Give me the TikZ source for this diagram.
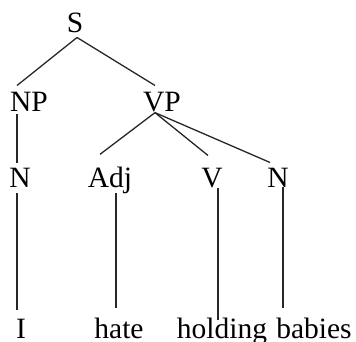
\documentclass[tikz,border=0pt]{standalone}
\usepackage{fontspec}
\setmainfont{Liberation Serif}
\begin{document}
\begin{tikzpicture}[x=1pt, y=-1pt,
    cat/.style={inner sep=0pt, anchor=base, font=\fontsize{29.5}{32}\selectfont},
    branch/.style={line width=1.3pt, black!85}]
    \useasboundingbox (0,0) rectangle (356,342);

    % Root
    \node[cat] (S) at (75,33) {S};

    % Phrases
    \node[cat] (NP) at (29,112) {NP};
    \node[cat] (VP) at (162,112) {VP};

    % Word classes
    \node[cat] (n1) at (20,187) {N};
    \node[cat] (adj) at (110,187) {Adj};
    \node[cat] (v) at (212,187) {V};
    \node[cat] (n2) at (278,187) {N};

    % Words
    \node[cat] (w1) at (21,338) {I};
    \node[cat] (w2) at (119,338) {hate};
    \node[cat] (w3) at (222,338) {holding};
    \node[cat] (w4) at (314,338) {babies};

    % Branches
    \draw[branch] ([xshift=2pt,yshift=-4pt]S.south) -- ([xshift=-12pt,yshift=7pt]NP.north);
    \draw[branch] ([xshift=2pt,yshift=-4pt]S.south) -- ([xshift=-7pt,yshift=7pt]VP.north);

    \draw[branch] ([xshift=-12pt,yshift=-2pt]NP.south) -- ([xshift=-3pt,yshift=4pt]n1.north);
    \draw[branch] ([xshift=-7pt]VP.south) -- ([xshift=-10pt,yshift=12pt]adj.north);
    \draw[branch] ([xshift=-7pt]VP.south) -- ([xshift=-4pt,yshift=12pt]v.north);
    \draw[branch] ([xshift=-7pt]VP.south) -- ([xshift=-8pt,yshift=5pt]n2.north);

    \draw[branch] ([xshift=-3pt,yshift=-6pt]n1.south) -- ([xshift=-4pt,yshift=8pt]w1.north);
    \draw[branch] ([xshift=6pt]adj.south) -- ([xshift=-3pt,yshift=9pt]w2.north);
    \draw[branch] ([xshift=6pt]v.south) -- ([xshift=-4pt,yshift=-3pt]w3.north);
    \draw[branch] ([xshift=5pt]n2.south) -- ([xshift=-31pt,yshift=9pt]w4.north);
\end{tikzpicture}
\end{document}
